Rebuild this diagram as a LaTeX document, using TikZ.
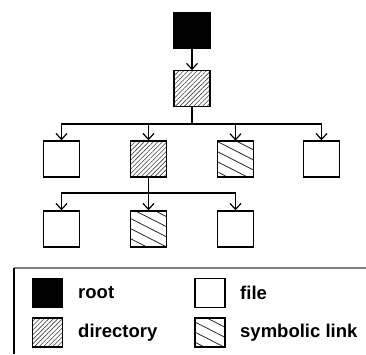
\documentclass[tikz,border=0pt]{standalone}
\usepackage{fontspec}
\setmainfont{Liberation Sans}
\usepackage{tikz}
\usetikzlibrary{arrows.meta,patterns.meta,positioning}

\begin{document}
\begin{tikzpicture}[
    x=1pt, y=-1pt,
    item/.style={draw, line width=1.4pt, minimum width=36pt, minimum height=36pt, inner sep=0pt},
    rootbox/.style={item, fill=black},
    filebox/.style={item, fill=white},
    dirbox/.style={item, pattern={Lines[angle=45, distance=3.2pt, line width=0.6pt]}, pattern color=black!75},
    linkbox/.style={item, pattern={Lines[angle=-27, distance=9pt, line width=0.8pt]}, pattern color=black!85},
    keybox/.style={minimum width=30pt, minimum height=29pt},
    keytext/.style={anchor=west, font=\fontsize{18.5}{22}\selectfont\bfseries, inner sep=0pt},
    tree/.style={line width=1.4pt},
    down/.style={tree, -{Straight Barb[length=6pt, width=11pt, line width=1.2pt]}},
]
\useasboundingbox (0,0) rectangle (366,354);

% Top of the tree: root and its directory
\node[rootbox] (root) at (192,30.5) {};
\node[dirbox] (top) at (192,88.5) {};
\draw[down] (root) -- (top);

% Second level
\node[filebox] (f1) at (61.5,159) {};
\node[dirbox]  (d2) at (148.5,159) {};
\node[linkbox] (l3) at (235.5,159) {};
\node[filebox] (f4) at (321.5,159) {};

\coordinate (bar1) at (192,124);
\draw[tree] (top) -- (bar1);
\foreach \kid in {f1,d2,l3,f4}
  \draw[down] (bar1) -| (\kid.north);

% Third level, below the second directory
\node[filebox] (g1) at (61.5,229) {};
\node[linkbox] (g2) at (148.5,229) {};
\node[filebox] (g3) at (235.5,229) {};

\coordinate (bar2) at (148.5,193);
\draw[tree] (d2) -- (bar2);
\foreach \kid in {g1,g2,g3}
  \draw[down] (bar2) -| (\kid.north);

% Legend
\draw[gray, line width=2pt] (14,268) -- (366,268);
\draw[line width=1.2pt] (14,268) -- (14,354);

\node[rootbox, keybox] (kroot) at (47.5,293) {};
\node[keytext] (troot) at (78,293) {root};
\node[dirbox, keybox] (kdir) at (47.5,332.5) {};
\node[keytext] (tdir) at (78,332.5) {directory};
\node[filebox, keybox] (kfile) at (210,293) {};
\node[keytext] (tfile) at (240,293) {file};
\node[linkbox, keybox] (klink) at (210,332.5) {};
\node[keytext] (tlink) at (240,332.5) {symbolic link};

\end{tikzpicture}
\end{document}
